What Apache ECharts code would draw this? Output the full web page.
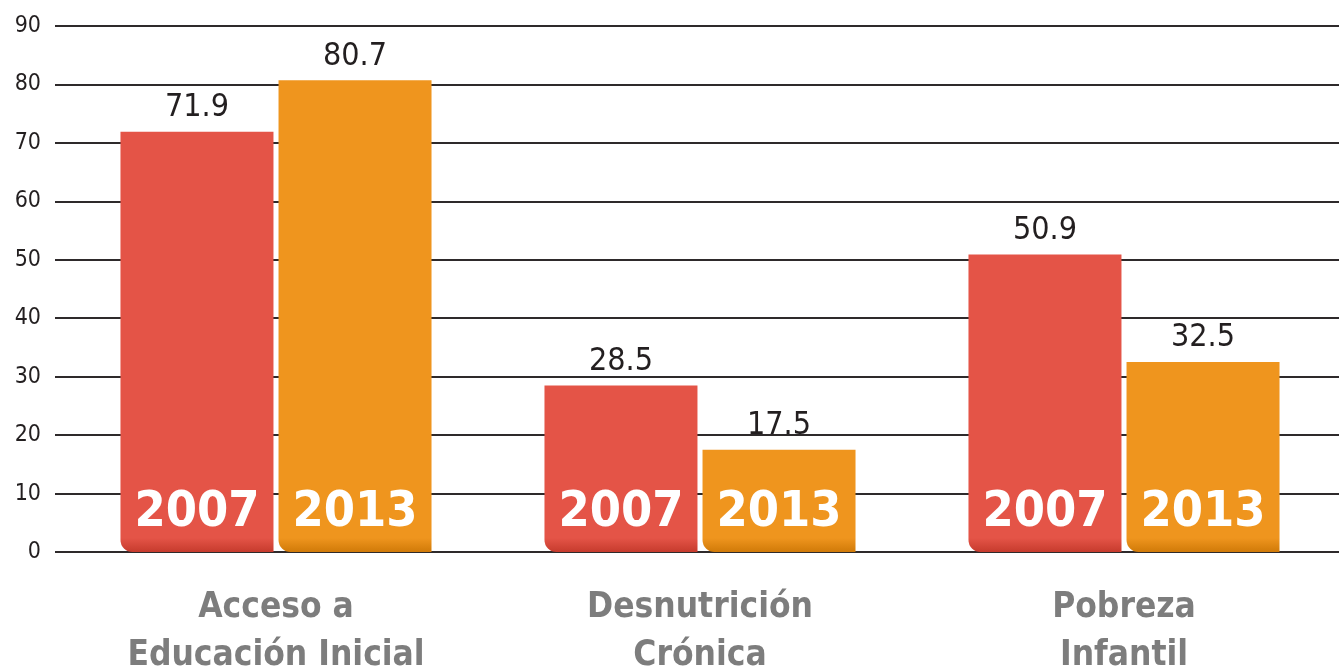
<!DOCTYPE html>
<html>
<head>
<meta charset="utf-8">
<script src="https://cdn.jsdelivr.net/npm/echarts@6/dist/echarts.min.js"></script>
<style>
html,body{margin:0;padding:0;background:#fff;}
#c{width:1339px;height:672px;}
</style>
</head>
<body>
<div id="c"></div>
<script>
var categories = ['Acceso a\nEducación Inicial', 'Desnutrición\nCrónica', 'Pobreza\nInfantil'];
var years = ['2007', '2013'];
var values2007 = [71.9, 28.5, 50.9];
var values2013 = [80.7, 17.5, 32.5];
var yTicks = [0, 10, 20, 30, 40, 50, 60, 70, 80, 90];

var chart = echarts.init(document.getElementById('c'));
var NARROW = '"Liberation Sans Narrow", "DejaVu Sans Condensed", Roboto, sans-serif';

function grad(top, bottom, v) {
  var h = v * 5.844;
  var s = Math.max(0, 1 - 14 / h);
  return new echarts.graphic.LinearGradient(0, 0, 0, 1, [
    {offset: 0, color: top}, {offset: s, color: top}, {offset: 1, color: bottom}
  ]);
}
function barData(vals, top, bottom) {
  return vals.map(function (v) {
    return {value: v, itemStyle: {color: grad(top, bottom, v)}};
  });
}
var yearLabel = function (name) {
  return {
    show: true, position: 'insideBottom', distance: 14,
    formatter: name, color: '#fff', fontFamily: NARROW, fontWeight: 'bold', fontSize: 50
  };
};
function topLabel(vals) {
  return {
    show: true, position: 'top', distance: 8, color: '#231f20', fontFamily: NARROW, fontSize: 32,
    formatter: function (p) { return vals[p.dataIndex].toFixed(1); }
  };
}

chart.setOption({
  animation: false,
  grid: [
    {left: 64, right: 3, top: 26, bottom: 120, outerBoundsMode: 'none', containLabel: false},
    {left: 55, right: 0, top: 26, bottom: 120, outerBoundsMode: 'none', containLabel: false}
  ],
  xAxis: [
    {type: 'category', gridIndex: 0, data: categories,
     axisLine: {show: false}, axisTick: {show: false},
     axisLabel: {color: '#7d7d7d', fontFamily: NARROW, fontWeight: 'bold', fontSize: 35, lineHeight: 48, margin: 32}},
    {type: 'value', gridIndex: 1, show: false}
  ],
  yAxis: [
    {type: 'value', gridIndex: 0, min: 0, max: 90, interval: 10, show: false},
    {type: 'value', gridIndex: 1, min: 0, max: 90, interval: 10,
     axisLine: {show: false}, axisTick: {show: false},
     axisLabel: {color: '#231f20', fontFamily: NARROW, fontSize: 23, margin: 14,
       formatter: function (v) { return yTicks.indexOf(v) >= 0 ? String(v) : ''; }},
     splitLine: {show: true, lineStyle: {color: '#2e2a2b', width: 2}}}
  ],
  series: [
    {name: years[0], type: 'bar', stack: 'a', xAxisIndex: 0, yAxisIndex: 0,
     barWidth: 153, barGap: '3.3%',
     data: barData(values2007, '#e45447', '#c63b2d'),
     itemStyle: {borderRadius: [0, 0, 0, 12]},
     label: yearLabel(years[0])},
    {name: years[0] + 'v', type: 'bar', stack: 'a', xAxisIndex: 0, yAxisIndex: 0,
     barWidth: 153, data: values2007.map(function () { return 0; }),
     itemStyle: {color: 'transparent'}, label: topLabel(values2007)},
    {name: years[1], type: 'bar', stack: 'b', xAxisIndex: 0, yAxisIndex: 0,
     barWidth: 153,
     data: barData(values2013, '#ef951e', '#d07a08'),
     itemStyle: {borderRadius: [0, 0, 0, 12]},
     label: yearLabel(years[1])},
    {name: years[1] + 'v', type: 'bar', stack: 'b', xAxisIndex: 0, yAxisIndex: 0,
     barWidth: 153, data: values2013.map(function () { return 0; }),
     itemStyle: {color: 'transparent'}, label: topLabel(values2013)}
  ]
});
</script>
</body>
</html>
